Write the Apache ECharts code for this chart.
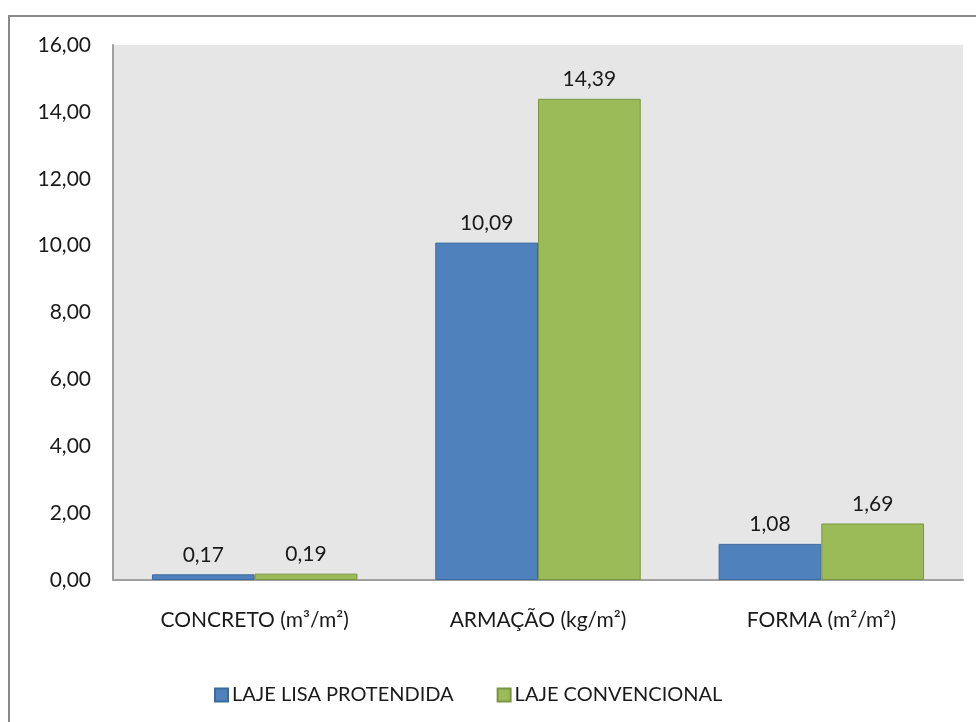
<!DOCTYPE html>
<html>
<head>
<meta charset="utf-8">
<script src="https://cdn.jsdelivr.net/npm/echarts@6/dist/echarts.min.js"></script>
<style>
  html, body { margin: 0; padding: 0; background: #fff; }
  #chart { width: 976px; height: 722px; }
</style>
</head>
<body>
<div id="chart"></div>
<script>
var categories = ['CONCRETO (m³/m²)', 'ARMAÇÃO (kg/m²)', 'FORMA (m²/m²)'];
var seriesNames = ['LAJE LISA PROTENDIDA', 'LAJE CONVENCIONAL'];
var lajeLisa = [0.17, 10.09, 1.08];
var lajeConv = [0.19, 14.39, 1.69];

var chart = echarts.init(document.getElementById('chart'));

// 數值格式: 0,00
function fmt(v) {
    return v.toFixed(2).replace('.', ',');
}

var font = 'Lato';

var option = {
    animation: false,
    textStyle: { fontFamily: font },
    graphic: [{
        type: 'rect',
        shape: { x: 9, y: 16, width: 1100, height: 1000 },
        style: { fill: 'none', stroke: '#8a8a8a', lineWidth: 2 },
        silent: true
    }],
    grid: {
        left: 113, right: 13, top: 45, bottom: 142,
        show: true, backgroundColor: '#e6e6e6', borderWidth: 0
    },
    legend: {
        left: 209, top: 680,
        itemWidth: 13, itemHeight: 13, itemGap: 43,
        icon: 'rect',
        textStyle: { fontSize: 20, color: '#1a1a1a', fontFamily: font, padding: [0, 0, 0, -1] },
        data: seriesNames
    },
    xAxis: {
        type: 'category',
        data: categories,
        axisLine: { lineStyle: { color: '#a0a0a0', width: 2 } },
        axisTick: { show: false },
        axisLabel: { fontSize: 21, color: '#1a1a1a', margin: 30, fontFamily: font }
    },
    yAxis: {
        type: 'value',
        min: 0, max: 16, interval: 2,
        axisLine: { show: true, lineStyle: { color: '#a0a0a0', width: 2 } },
        axisTick: { show: false },
        splitLine: { show: false },
        axisLabel: {
            fontSize: 21, color: '#1a1a1a', margin: 22, fontFamily: font,
            formatter: function (v) { return fmt(v); }
        }
    },
    series: [
        {
            name: seriesNames[0],
            type: 'bar',
            data: lajeLisa,
            barGap: '0%',
            barCategoryGap: '27.5%',
            itemStyle: { color: '#4f81bd', borderColor: '#3d6a9e', borderWidth: 1 },
            label: {
                show: true, position: 'top', distance: 9,
                fontSize: 21, color: '#1a1a1a', fontFamily: font,
                formatter: function (p) { return fmt(p.value); }
            }
        },
        {
            name: seriesNames[1],
            type: 'bar',
            data: lajeConv,
            itemStyle: { color: '#9bbb59', borderColor: '#7a9540', borderWidth: 1 },
            label: {
                show: true, position: 'top', distance: 9,
                fontSize: 21, color: '#1a1a1a', fontFamily: font,
                formatter: function (p) { return fmt(p.value); }
            }
        }
    ]
};

chart.setOption(option);
</script>
</body>
</html>
